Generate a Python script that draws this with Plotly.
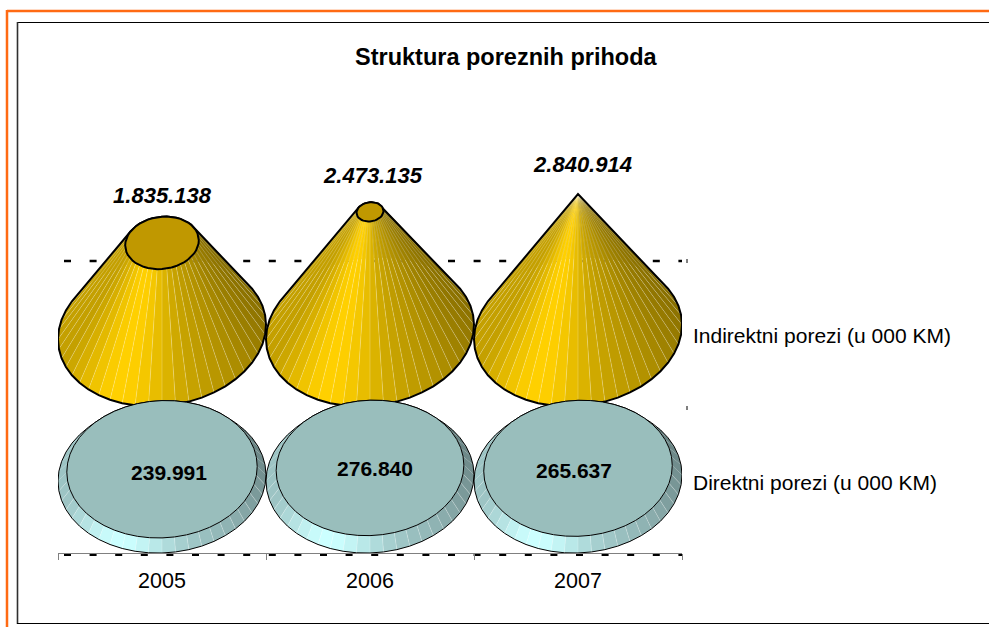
import math
import plotly.graph_objects as go

years = ["2005", "2006", "2007"]
indirect = [1835138, 2473135, 2840914]
direct = [239991, 276840, 265637]
indirect_labels = ["1.835.138", "2.473.135", "2.840.914"]
direct_labels = ["239.991", "276.840", "265.637"]
series_names = ["Indirektni porezi (u 000 KM)", "Direktni porezi (u 000 KM)"]
title = "Struktura poreznih prihoda"

# geometry of the plot area in pixels
L, R, T, B = 58, 682, 150, 553
W, H = 989, 627
MAXV = max(indirect)
U = MAXV / 138.0           # value units per vertical pixel
CAT_PX = (R - L) / 3.0
RX = 104 / CAT_PX          # base radius in category units
BY = 74 * U                # cone base semi-axis
BY_D = 75 * U              # disc base semi-axis
CONE_BASE = (B - 332) * U
DISC_BASE = (B - 478) * U
DISC_H = 0.75
N = 48
FONT = "Liberation Sans, Arial, sans-serif"


def shade(t, rgb):
    c = math.cos(t - math.radians(245))
    if c >= 0:
        f = 0.62 + 0.2 * c + 0.18 * c ** 8
    else:
        f = 0.62 + 0.14 * c
    if math.cos(t) < 0:
        f = max(f, 0.77)
    return "rgb(%d,%d,%d)" % tuple(round(v * f) for v in rgb)


def pt(i, t, frac, center, by, skew):
    s = 1 - frac
    dx = RX * s * math.cos(t)
    return (i + dx, center + by * s * math.sin(t) + skew * dx * CAT_PX * U)


def hull(points):
    pts = sorted(set((x * CAT_PX, y / U) for x, y in points))
    def half(seq):
        out = []
        for p in seq:
            while len(out) > 1 and ((out[-1][0]-out[-2][0])*(p[1]-out[-2][1]) - (out[-1][1]-out[-2][1])*(p[0]-out[-2][0])) <= 0:
                out.pop()
            out.append(p)
        return out[:-1]
    h = half(pts) + half(pts[::-1])
    h.append(h[0])
    return [(x / CAT_PX, y * U) for x, y in h]


fig = go.Figure()


def poly(xs, ys, fill=None, line=None, width=0):
    fig.add_trace(go.Scatter(
        x=xs, y=ys, mode="lines", fill="toself" if fill else None, fillcolor=fill,
        line=dict(color=line or "rgba(0,0,0,0)", width=width),
        hoverinfo="skip", showlegend=False, cliponaxis=False))


def frustum(i, frac, top_c, base_c, by, skew, rgb, top_fill, lw, seam_limit):
    ts = [2 * math.pi * k / N for k in range(N + 1)]
    order = sorted(range(N), key=lambda k: -math.sin(ts[k] + math.pi / N))
    for k in order:
        a, b = ts[k], ts[k + 1]
        p = [pt(i, a, 0, base_c, by, skew), pt(i, b, 0, base_c, by, skew),
             pt(i, b, frac, top_c, by, skew), pt(i, a, frac, top_c, by, skew)]
        p.append(p[0])
        poly([q[0] for q in p], [q[1] for q in p], fill=shade((a + b) / 2, rgb))
    sx, sy = [], []
    for t in ts[:-1]:
        if math.sin(t) < seam_limit:
            p0, p1 = pt(i, t, 0, base_c, by, skew), pt(i, t, frac, top_c, by, skew)
            sx += [p0[0], p1[0], None]
            sy += [p0[1], p1[1], None]
    poly(sx, sy, line="rgba(255,255,255,0.32)", width=0.7)
    base = [pt(i, t, 0, base_c, by, skew) for t in ts]
    top = [pt(i, t, frac, top_c, by, skew) for t in ts]
    h = hull(base + top)
    poly([q[0] for q in h], [q[1] for q in h], line="black", width=lw)
    if frac < 0.999:
        poly([q[0] for q in top], [q[1] for q in top], fill=top_fill, line="black", width=lw)


for i, v in enumerate(indirect):
    frac = v / MAXV
    frustum(i, frac, CONE_BASE + v, CONE_BASE, BY, 0.07, (255, 208, 0), "rgb(192,152,0)", 2, 0.45)

for i, v in enumerate(direct):
    frac = v / MAXV
    frustum(i, frac, DISC_BASE + v * DISC_H, DISC_BASE, BY_D, 0.03, (204, 255, 255), "rgb(153,190,188)", 1, -0.05)

# data labels
lab_dx = [0, 3, 5]
lab_dy = [19, 25, 28]
xs, ys = [], []
for i, v in enumerate(indirect):
    frac = v / MAXV
    cap_top = CONE_BASE + v + BY * (1 - frac)
    xs.append(i + lab_dx[i] / CAT_PX)
    ys.append(cap_top + lab_dy[i] * U)
fig.add_trace(go.Scatter(x=xs, y=ys, mode="text", text=indirect_labels, hoverinfo="skip", showlegend=False,
                         cliponaxis=False,
                         textfont=dict(family=FONT, size=22, color="black", weight="bold", style="italic")))
dir_dx = [7, 5, -4]
dir_dy = [-5, -3, -4]
xs, ys = [], []
for i, v in enumerate(direct):
    xs.append(i + dir_dx[i] / CAT_PX)
    ys.append(DISC_BASE + v * DISC_H + dir_dy[i] * U)
fig.add_trace(go.Scatter(x=xs, y=ys, mode="text", text=direct_labels, hoverinfo="skip", showlegend=False,
                         cliponaxis=False,
                         textfont=dict(family=FONT, size=21, color="black", weight="bold")))


def px(x):
    return (x - L) / (R - L)


def py(y):
    return (B - y) / (B - T)


def pline(x0, y0, x1, y1, color, width, dash=None, layer="below"):
    return dict(type="line", xref="paper", yref="paper", x0=px(x0), y0=py(y0), x1=px(x1), y1=py(y1), layer=layer,
                line=dict(color=color, width=width, dash=dash or "solid"))


GRID_DASH = "7px,18.6px"
shapes = [
    pline(64, 261, 682, 261, "black", 2.5, GRID_DASH),
    pline(64, 554.5, 682, 554.5, "black", 3, GRID_DASH),
    pline(687, 259, 687, 263, "black", 1),
    pline(687, 406, 687, 410, "black", 1),
    # frames
    pline(7, 11, W, 11, "#FF6A13", 2.5, layer="above"),
    pline(7, 10, 7, H, "#FF6A13", 2.5, layer="above"),
    pline(17.5, 22.5, W, 22.5, "black", 1.2, layer="above"),
    pline(17.5, 22, 17.5, 624, "#303030", 1.6, layer="above"),
    pline(17, 623.5, W, 623.5, "black", 1.2, layer="above"),
]

annotations = [
    dict(xref="paper", yref="paper", x=px(691), y=py(335), text=series_names[0], showarrow=False, xanchor="left",
         yanchor="middle", font=dict(family=FONT, size=21, color="black")),
    dict(xref="paper", yref="paper", x=px(691), y=py(482), text=series_names[1], showarrow=False, xanchor="left",
         yanchor="middle", font=dict(family=FONT, size=21, color="black")),
    dict(xref="paper", yref="paper", x=px(506), y=py(57), text="<b>%s</b>" % title, showarrow=False, xanchor="center",
         yanchor="middle", font=dict(family=FONT, size=23.5, color="black")),
]

fig.update_layout(
    width=W, height=H, autosize=False,
    margin=dict(l=L, r=W - R, t=T, b=H - B, pad=0),
    paper_bgcolor="white", plot_bgcolor="rgba(0,0,0,0)",
    shapes=shapes, annotations=annotations, showlegend=False,
    xaxis=dict(range=[-0.5, 2.5], tickmode="array", tickvals=[0, 1, 2], ticktext=years, ticks="", showgrid=False,
               zeroline=False, showline=True, linecolor="#808080", linewidth=1,
               ticklabelstandoff=8,
               tickfont=dict(family=FONT, size=21.5, color="black"),
               minor=dict(tickmode="array", tickvals=[-0.5, 0.5, 1.5, 2.5], ticks="outside", ticklen=6,
                          tickcolor="#808080", tickwidth=1, showgrid=False)),
    yaxis=dict(range=[0, (B - T) * U], visible=False, showgrid=False, zeroline=False),
)
fig.write_html("out.html", config={"displayModeBar": False},
               post_script="document.body.style.margin='0';document.body.style.overflow='hidden';")
